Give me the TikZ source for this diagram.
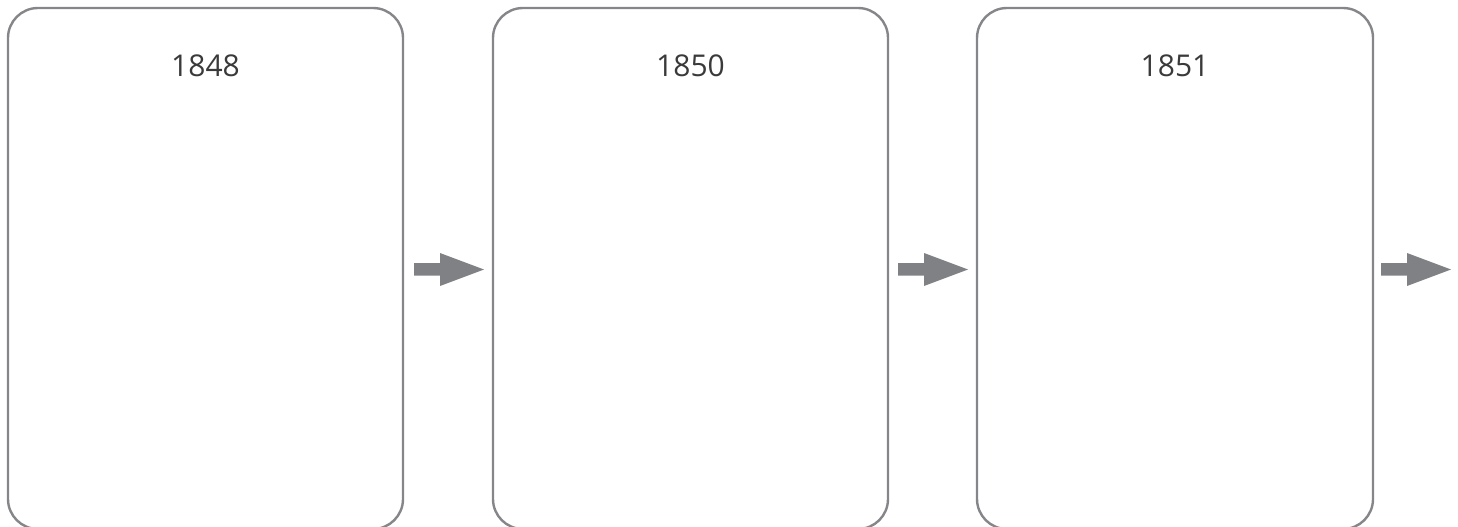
\documentclass[tikz,border=0pt]{standalone}
\usepackage{fontspec}
\setmainfont{Open Sans}
\definecolor{boxgray}{HTML}{85868A}
\definecolor{arrowgray}{HTML}{808185}
\definecolor{txt}{HTML}{3A3A3A}
\begin{document}
\begin{tikzpicture}[x=1pt,y=-1pt,
  yearbox/.style={draw=boxgray,line width=2.4pt,rounded corners=30pt,minimum width=395pt,minimum height=521pt,inner sep=0pt,outer sep=0pt,anchor=north west},
  yeartext/.style={text=txt,font=\fontsize{30}{34}\selectfont,anchor=center,inner sep=0pt},
  flowarrow/.style={fill=arrowgray,draw=none}]
\useasboundingbox (0,0) rectangle (1458,527);
\node[yearbox] (b1) at (8,8) {};
\node[yearbox] (b2) at (493,8) {};
\node[yearbox,minimum width=396pt] (b3) at (977,8) {};
\node[yeartext] (t1) at (205.5,66) {1848};
\node[yeartext] (t2) at (690.5,66) {1850};
\node[yeartext] (t3) at (1175,66) {1851};
\foreach \x/\n in {414/a1,898/a2,1381/a3}{
  \fill[flowarrow] (\x,263) -- (\x+26,263) -- (\x+26,253) -- (\x+70,269.5) -- (\x+26,286) -- (\x+26,275.5) -- (\x,275.5) -- cycle;
}
\end{tikzpicture}
\end{document}
